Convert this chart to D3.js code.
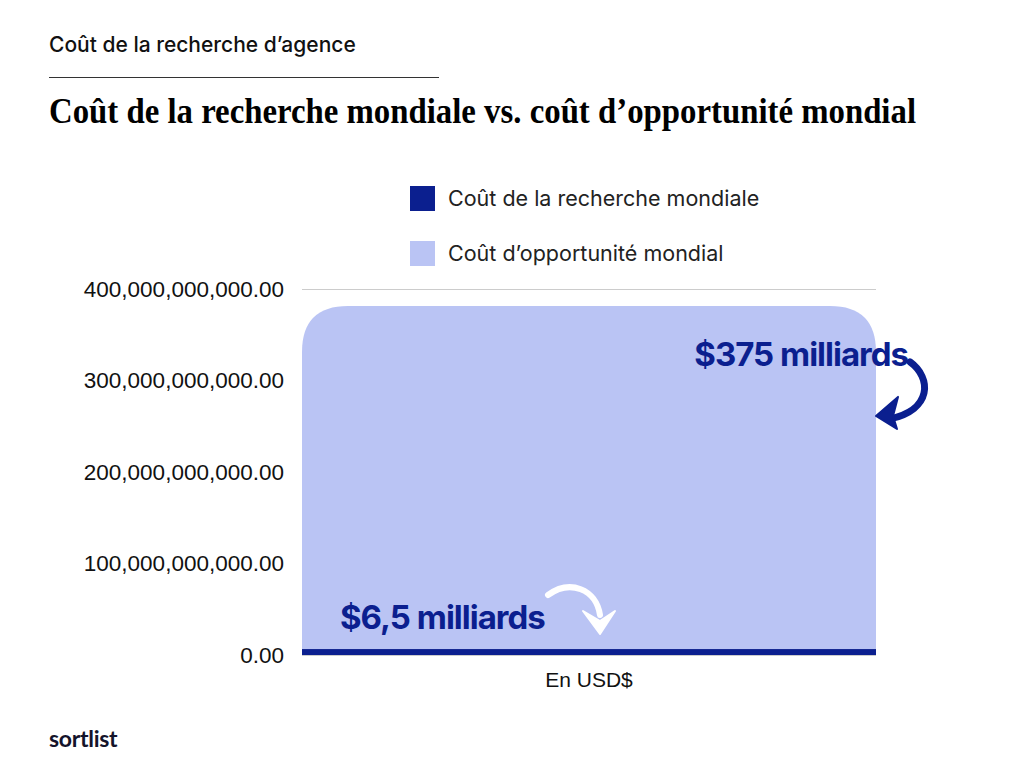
<!DOCTYPE html>
<html>
<head>
<meta charset="utf-8">
<script src="https://cdn.jsdelivr.net/npm/d3@7"></script>
<style>
  html, body { margin: 0; padding: 0; background: #fff; }
  svg { display: block; }
</style>
</head>
<body>
<div id="chart"></div>
<script>
'use strict';

// Data
const categories = ["En USD$"];
const seriesKeys = ["recherche", "opportunite"];
const seriesLabels = ["Coût de la recherche mondiale", "Coût d’opportunité mondial"];
const researchValues = [6.5e9];
const opportunityValues = [375e9];
const yTicks = [0, 100e9, 200e9, 300e9, 400e9];
const annotationTexts = ["$375 milliards", "$6,5 milliards"];

const palette = {
    dark: "#0b1f8f",
    light: "#bac4f4",
    text: "#1a1a1a",
    grid: "#cccccc"
};

const width = 1024, height = 768;
const margin = { top: 290, right: 148, bottom: 112, left: 302 };
const innerWidth = width - margin.left - margin.right;
const innerHeight = height - margin.top - margin.bottom;

const svg = d3.select("#chart").append("svg")
    .attr("width", width)
    .attr("height", height);

// Header
svg.append("text")
    .attr("x", 49).attr("y", 52)
    .attr("font-family", "Inter, sans-serif")
    .attr("font-weight", 500)
    .attr("font-size", 21)
    .attr("fill", "#111")
    .text("Coût de la recherche d’agence");

svg.append("line")
    .attr("x1", 49).attr("x2", 439)
    .attr("y1", 77.5).attr("y2", 77.5)
    .attr("stroke", "#333").attr("stroke-width", 1);

svg.append("text")
    .attr("x", 49).attr("y", 123)
    .attr("font-family", "'Liberation Serif', 'DejaVu Serif', serif")
    .attr("font-weight", 700)
    .attr("font-size", 36)
    .attr("textLength", 867)
    .attr("lengthAdjust", "spacingAndGlyphs")
    .attr("fill", "#000")
    .text("Coût de la recherche mondiale vs. coût d’opportunité mondial");

// Legend
const legend = svg.append("g").attr("transform", "translate(410,186)");
const legendItems = legend.selectAll("g")
    .data(seriesKeys)
    .join("g")
    .attr("transform", (d, i) => `translate(0,${i * 55})`);

legendItems.append("rect")
    .attr("width", 25).attr("height", 25)
    .attr("fill", (d, i) => i === 0 ? palette.dark : palette.light);

legendItems.append("text")
    .attr("x", 38).attr("y", 20)
    .attr("font-family", "Inter, sans-serif")
    .attr("font-size", 21.5)
    .attr("fill", "#222")
    .text((d, i) => seriesLabels[i]);

// Chart
const chart = svg.append("g")
    .attr("transform", `translate(${margin.left},${margin.top})`);

const x = d3.scaleBand()
    .domain(categories)
    .range([0, innerWidth])
    .padding(0);

const y = d3.scaleLinear()
    .domain([0, 400e9])
    .range([innerHeight - 1, -1]);

// gridlines
chart.append("g")
    .selectAll("line")
    .data(yTicks)
    .join("line")
    .attr("x1", 0).attr("x2", innerWidth)
    .attr("y1", d => y(d) + 0.5).attr("y2", d => y(d) + 0.5)
    .attr("stroke", palette.grid);

// y axis
const axisY = chart.append("g")
    .call(d3.axisLeft(y).tickValues(yTicks).tickFormat(d3.format(",.2f")).tickSize(0).tickPadding(18));
axisY.select(".domain").remove();
axisY.selectAll("text")
    .attr("font-family", "'Liberation Sans', Arial, sans-serif")
    .attr("font-size", 22.5)
    .attr("fill", "#111");

// x axis
const axisX = chart.append("g")
    .attr("transform", `translate(0,${innerHeight})`)
    .call(d3.axisBottom(x).tickSize(0).tickPadding(16));
axisX.select(".domain").remove();
axisX.selectAll("text")
    .attr("font-family", "'Liberation Sans', Arial, sans-serif")
    .attr("font-size", 21)
    .attr("fill", "#111");

// stacked bars
const table = categories.map((c, i) => ({
    category: c,
    recherche: researchValues[i],
    opportunite: opportunityValues[i]
}));
const stacked = d3.stack().keys(seriesKeys)(table);

function topRoundedBar(x0, y0, w, h, r) {
    r = Math.min(r, h, w / 2);
    return `M${x0},${y0 + h}V${y0 + r}Q${x0},${y0} ${x0 + r},${y0}` +
        `H${x0 + w - r}Q${x0 + w},${y0} ${x0 + w},${y0 + r}V${y0 + h}Z`;
}

// light (top) segment with rounded top corners
const opp = stacked[1][0];
chart.append("path")
    .attr("d", topRoundedBar(x(opp.data.category), y(opp[1]), x.bandwidth(), y(opp[0]) - y(opp[1]), 46))
    .attr("fill", palette.light);

// dark (bottom) segment
const res = stacked[0][0];
chart.append("rect")
    .attr("x", x(res.data.category))
    .attr("y", y(res[1]))
    .attr("width", x.bandwidth())
    .attr("height", y(res[0]) - y(res[1]))
    .attr("fill", palette.dark);

// Annotations
const barRight = x(categories[0]) + x.bandwidth();
const barLeft = x(categories[0]);
const topY = y(opp[1]);

chart.append("text")
    .attr("x", barRight + 32)
    .attr("y", topY + 60)
    .attr("text-anchor", "end")
    .attr("font-family", "Inter, sans-serif")
    .attr("font-weight", 700)
    .attr("font-size", 33)
    .attr("letter-spacing", -1)
    .attr("fill", palette.dark)
    .text(annotationTexts[0]);

chart.append("text")
    .attr("x", barLeft + 38)
    .attr("y", y(0) - 26)
    .attr("font-family", "Inter, sans-serif")
    .attr("font-weight", 700)
    .attr("font-size", 33)
    .attr("letter-spacing", -1)
    .attr("fill", palette.dark)
    .text(annotationTexts[1]);

// dark curved arrow (relative to right side of bar)
const a1 = chart.append("g").attr("transform", `translate(${barRight},${topY})`);
a1.append("path")
    .attr("d", "M34,56 C56,72 56,104 14,113")
    .attr("fill", "none")
    .attr("stroke", palette.dark)
    .attr("stroke-width", 7)
    .attr("stroke-linecap", "round");
a1.append("path")
    .attr("d", "M0,110 L22,91 L17,110 L21,123 Z")
    .attr("fill", palette.dark)
    .attr("stroke", palette.dark)
    .attr("stroke-width", 2)
    .attr("stroke-linejoin", "round");

// white curved arrow (relative to baseline)
const a2 = chart.append("g").attr("transform", `translate(${barLeft},${y(0)})`);
a2.append("path")
    .attr("d", "M246,-60 C268,-76 294,-66 298,-40")
    .attr("fill", "none")
    .attr("stroke", "#fff")
    .attr("stroke-width", 6)
    .attr("stroke-linecap", "round");
a2.append("path")
    .attr("d", "M281,-44 L298,-34 L313,-44 L298,-21 Z")
    .attr("fill", "#fff")
    .attr("stroke", "#fff")
    .attr("stroke-width", 2)
    .attr("stroke-linejoin", "round");

// Logo
svg.append("text")
    .attr("x", 49).attr("y", 747)
    .attr("font-family", "Lato, 'Open Sans', sans-serif")
    .attr("font-weight", 700)
    .attr("font-size", 23)
    .attr("letter-spacing", -0.3)
    .attr("fill", "#14142b")
    .text("sortlist");
</script>
</body>
</html>
